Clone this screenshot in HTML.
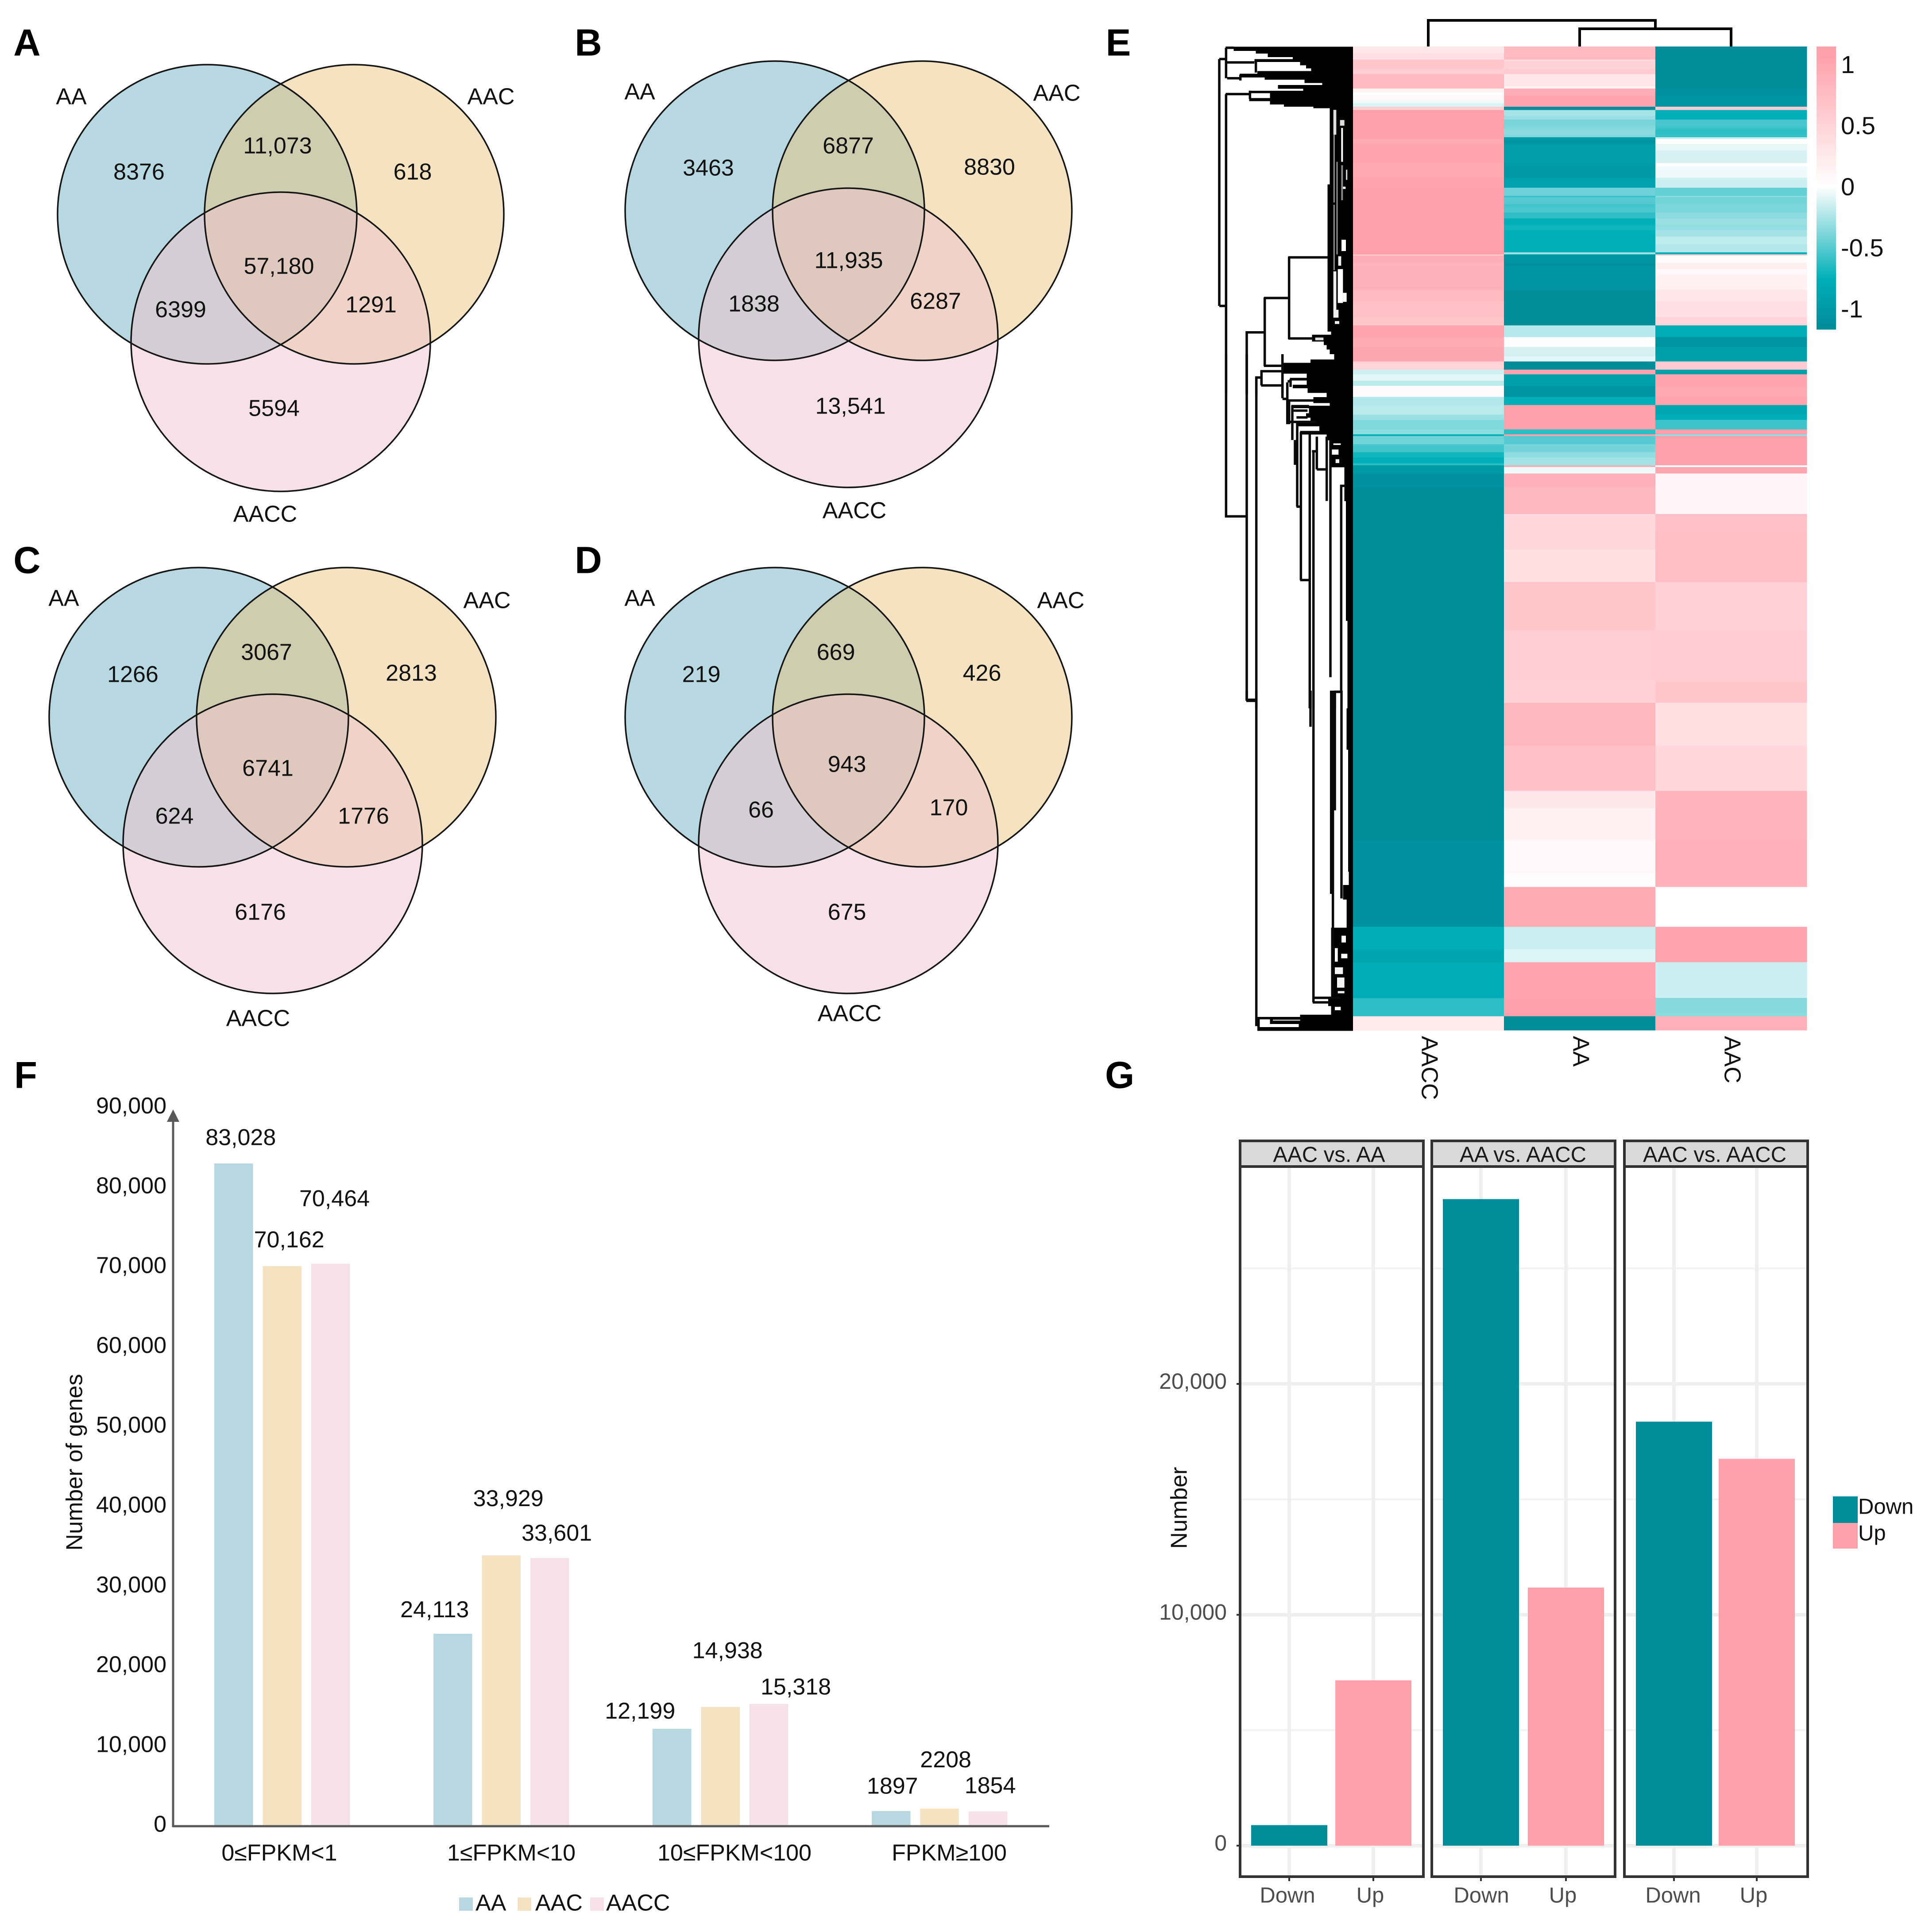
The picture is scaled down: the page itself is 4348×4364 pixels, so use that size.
<!DOCTYPE html>
<html lang="en">
<head>
<meta charset="utf-8">
<title>Venn diagrams, heatmap and gene count charts</title>
<style>
html,body{margin:0;padding:0;background:#fff;}
svg{display:block;font-family:"Liberation Sans",Arial,sans-serif;}
</style>
</head>
<body>
<svg id="fig" xmlns="http://www.w3.org/2000/svg" width="4348" height="4364" viewBox="0 0 4348 4364">
<rect x="0" y="0" width="4348" height="4364" fill="#fff"/>
<defs id="defs"></defs>
</svg>
<script>
// ---------- Venn data ----------
const vennSets = ['AA', 'AAC', 'AACC'];
const vennCountsA = ['8376', '11,073', '618', '57,180', '6399', '1291', '5594'];
const vennCountsB = ['3463', '6877', '8830', '11,935', '1838', '6287', '13,541'];
const vennCountsC = ['1266', '3067', '2813', '6741', '624', '1776', '6176'];
const vennCountsD = ['219', '669', '426', '943', '66', '170', '675'];

// ---------- Heatmap data: run-lengths of clustered rows and scaled expression per column ----------
const hmColumns = ['AACC', 'AA', 'AAC'];
const hmRowsAACC = [45,43,12,55,33,97,25,20,35,20,23,22,197,33,130,100,67,451,10,47,20,165,78,107,55,80,65,100,55,32,43,35,75,55,65,35,65,33,12,55,55,35,40,13,55,92,300,2094,587,154,87,241,124,95];
const hmValsAACC = [.26,.36,.65,.65,.57,.8,.15,0,.08,-.05,-.115,.55,1.08,.98,1.02,.98,1.02,1.08,.65,.92,.84,.89,.8,.72,.65,1.05,.95,1.0,.5,-.15,-.08,-.2,.05,-.23,-.2,-.29,-.37,-.34,-.75,-.42,-.55,-.7,-.76,-.62,-1.0,-1.08,-1.13,-1.15,-1.08,-.8,-.88,-.78,-.62,.24];
const hmRowsAA = [88,12,55,33,82,15,45,78,22,40,25,45,20,35,20,12,33,130,100,67,55,10,46,22,35,40,45,33,152,13,57,20,165,240,80,65,65,35,55,32,78,75,55,165,33,12,55,55,35,53,12,43,92,183,117,124,219,328,348,144,291,306,117,216,231,87,269,154,87,241,124,95];
const hmValsAA = [.8,.42,.51,.6,.28,.17,.93,1.01,-1.15,-.26,-.3,-.4,-.37,-.34,-.37,-1.0,-1.05,-.95,-1.0,-.9,-.43,-.6,-.5,-.56,-.53,-.61,-.75,-.7,-.76,-.28,-1.05,-1.12,-1.05,-1.13,-.22,.02,-.12,-.08,-1.15,1.05,-.92,-1.05,-.76,1.08,-.62,1.08,-.5,-.41,-.33,-.27,.9,-.05,.9,.82,.45,.45,.34,.65,.56,.52,.82,.72,.26,.17,.08,.01,.95,-.16,-.1,1.05,1.08,-1.15];
const hmRowsAAC = [285,45,78,22,65,45,20,35,20,12,33,45,85,25,75,67,55,10,46,57,40,45,33,44,53,55,13,10,47,20,22,43,100,78,107,55,80,65,100,55,32,88,65,55,65,35,65,33,12,198,12,43,92,183,117,343,328,348,144,291,306,117,216,231,87,269,154,87,241,124,95];
const hmValsAAC = [-1.15,-1.08,-1.05,.6,-.76,-.54,-.57,-.62,-.6,-.16,0,-.075,-.12,0,-.05,-.15,-.46,-.35,-.42,-.39,-.34,-.3,-.32,-.27,-.19,-.23,-.76,.5,.05,.18,.2,.08,.17,.28,.36,.48,-.8,-1.05,-.92,.6,-.92,1.02,.98,1.05,-.85,-.8,-.57,1.08,-.32,1.08,0,1.0,.12,.12,.72,.75,.54,.58,.65,.34,.45,.84,.85,.9,.9,0,1.05,1.05,-.15,-.35,.9];
const hmLegendTicks = [1, 0.5, 0, -0.5, -1];
const hmLegendLabels = ['1', '0.5', '0', '-0.5', '-1'];

// ---------- Bar chart F data ----------
const fCategories = ['0≤FPKM<1', '1≤FPKM<10', '10≤FPKM<100', 'FPKM≥100'];
const fSeries = ['AA', 'AAC', 'AACC'];
const fAA = [83028, 24113, 12199, 1897];
const fAAC = [70162, 33929, 14938, 2208];
const fAACC = [70464, 33601, 15318, 1854];
const fYTicks = [0, 10000, 20000, 30000, 40000, 50000, 60000, 70000, 80000, 90000];
const fYTickLabels = ['0', '10,000', '20,000', '30,000', '40,000', '50,000', '60,000', '70,000', '80,000', '90,000'];

// ---------- Bar chart G data ----------
const gPanels = ['AAC vs. AA', 'AA vs. AACC', 'AAC vs. AACC'];
const gCategories = ['Down', 'Up'];
const gDown = [890, 28005, 18365];
const gUp = [7163, 11178, 16755];
const gYTicks = [0, 10000, 20000];
const gYTickLabels = ['0', '10,000', '20,000'];
const gMinorTicks = [5000, 15000, 25000];

// ---------- helpers ----------
const NS = 'http://www.w3.org/2000/svg';
const root = document.getElementById('fig');
const defs = document.getElementById('defs');

function add(parent, tag, attrs, name) {
  const el = document.createElementNS(NS, tag);
  for (const k in attrs) el.setAttribute(k, attrs[k]);
  
  
  parent.appendChild(el);
  return el;
}
function group(name) {
  return add(root, 'g', {}, name);
}
function label(parent, str, x, y, size, anchor, name, extra) {
  const attrs = {x: x, y: y + size * 0.36, 'font-size': size, 'text-anchor': anchor || 'middle', fill: '#111'};
  if (extra) for (const k in extra) attrs[k] = extra[k];
  const el = add(parent, 'text', attrs, name);
  el.textContent = str;
  return el;
}
function rotLabel(parent, str, x, y, size, deg, anchor, name, fill) {
  const el = add(parent, 'text', {x: x, y: y, dy: size * 0.36, 'font-size': size, 'text-anchor': anchor, fill: fill || '#111', transform: 'rotate(' + deg + ' ' + x + ' ' + y + ')'}, name);
  el.textContent = str;
  return el;
}

// ---------- panel letters ----------
const lettersG = group('panel-letters');
[['A',61,95],['B',1329,95],['C',61,1264],['D',1329,1264],['E',2526,95],['F',58,2427],['G',2529,2427]].forEach(function (p) {
  label(lettersG, p[0], p[1], p[2], 85, 'middle', 'panel-letter-' + p[0].toLowerCase(), {'font-weight': 'bold', fill: '#000'});
});

// ---------- Venn ----------
function venn(id, cx1, cy1, cx2, cx3, cy3, counts, countPos, setPos) {
  const g = group('venn-' + id);
  const r = 338;
  const c = [[cx1, cy1], [cx2, cy1], [cx3, cy3]];
  ['a', 'b'].forEach(function (k, i) {
    const cp = add(defs, 'clipPath', {id: 'clip-' + id + k}, 'venn-clip');
    add(cp, 'circle', {cx: c[i][0], cy: c[i][1], r: r}, 'venn-clip-circle');
  });
  const fills = ['#b7d8e0', '#f4e2c0', '#f6e2e6'];
  c.forEach(function (p, i) {
    add(g, 'circle', {cx: p[0], cy: p[1], r: r, fill: fills[i]}, 'venn-circle-' + vennSets[i].toLowerCase());
  });
  add(g, 'circle', {cx: c[1][0], cy: c[1][1], r: r, fill: '#cfcdb0', 'clip-path': 'url(#clip-' + id + 'a)'}, 'venn-overlap-aa-aac');
  add(g, 'circle', {cx: c[2][0], cy: c[2][1], r: r, fill: '#d3cdd4', 'clip-path': 'url(#clip-' + id + 'a)'}, 'venn-overlap-aa-aacc');
  add(g, 'circle', {cx: c[2][0], cy: c[2][1], r: r, fill: '#f0d3c7', 'clip-path': 'url(#clip-' + id + 'b)'}, 'venn-overlap-aac-aacc');
  const inner = add(g, 'g', {'clip-path': 'url(#clip-' + id + 'a)'}, 'venn-center-clip');
  add(inner, 'circle', {cx: c[2][0], cy: c[2][1], r: r, fill: '#dfc9be', 'clip-path': 'url(#clip-' + id + 'b)'}, 'venn-overlap-center');
  c.forEach(function (p, i) {
    add(g, 'circle', {cx: p[0], cy: p[1], r: r, fill: 'none', stroke: '#151515', 'stroke-width': 3.5}, 'venn-outline-' + vennSets[i].toLowerCase());
  });
  counts.forEach(function (s, i) {
    label(g, s, countPos[i][0], countPos[i][1], 52, 'middle', 'venn-count');
  });
  vennSets.forEach(function (s, i) {
    label(g, s, setPos[i][0], setPos[i][1], 52, 'middle', 'venn-set-label-' + s.toLowerCase());
  });
}
venn('a', 468, 484, 800, 634, 772, vennCountsA,
  [[314,387],[627,328],[932,387],[630,600],[408,698],[838,687],[619,921]],
  [[161,217],[1109,217],[599,1160]]);
venn('b', 1750, 476, 2083, 1916, 763, vennCountsB,
  [[1600,378],[1916,328],[2235,376],[1917,587],[1703,685],[2113,679],[1921,916]],
  [[1445,206],[2387,209],[1930,1152]]);
venn('c', 449, 1620, 782, 616, 1906, vennCountsC,
  [[300,1522],[602,1472],[929,1519],[605,1734],[394,1842],[821,1842],[588,2059]],
  [[144,1350],[1100,1355],[583,2299]]);
venn('d', 1750, 1620, 2083, 1916, 1906, vennCountsD,
  [[1584,1522],[1888,1472],[2218,1519],[1913,1725],[1719,1828],[2143,1823],[1913,2059]],
  [[1445,1350],[2396,1355],[1919,2288]]);

// ---------- Heatmap ----------
function lerp(a, b, t) { return a.map(function (v, i) { return Math.round(v + (b[i] - v) * t); }); }
function colorScale(v) {
  const white = [255, 255, 255], pink = [255, 160, 170], bright = [0, 176, 185], dark = [0, 140, 153];
  let c;
  if (v >= 0) c = lerp(white, pink, Math.min(v / 1.08, 1));
  else if (v >= -0.75) c = lerp(white, bright, -v / 0.75);
  else c = lerp(bright, dark, Math.min((-v - 0.75) / 0.4, 1));
  return 'rgb(' + c.join(',') + ')';
}
const hmX0 = 3055, hmY0 = 105, hmColW = 342, hmHeight = 2222, hmUnitsTotal = 6666;
function hmY(rowIndex) { return hmY0 + rowIndex / hmUnitsTotal * hmHeight; }
function hmX(col) { return hmX0 + col * hmColW; }
const hmG = group('heatmap');
const hmRowRuns = [hmRowsAACC, hmRowsAA, hmRowsAAC];
const hmValRuns = [hmValsAACC, hmValsAA, hmValsAAC];
hmColumns.forEach(function (name, j) {
  let cursor = 0;
  hmRowRuns[j].forEach(function (n, i) {
    add(hmG, 'rect', {x: hmX(j), y: hmY(cursor), width: hmColW + 0.5, height: hmY(cursor + n) - hmY(cursor) + 0.5, fill: colorScale(hmValRuns[j][i]), 'shape-rendering': 'crispEdges'}, 'heatmap-cell-' + name.toLowerCase());
    cursor += n;
  });
});
hmColumns.forEach(function (name, j) {
  rotLabel(hmG, name, hmX(j) + hmColW / 2 + 4, 2340, 52, 90, 'start', 'heatmap-column-label-' + name.toLowerCase());
});

// colour bar
const lgX = 4103, lgW = 44, lgTop = 105, lgBottom = 742;
function lgY(v) { return 421 - v * 276; }
const lgG = group('heatmap-colorbar');
for (let py = lgTop; py < lgBottom; py += 3) {
  const v = (421 - py) / 276;
  add(lgG, 'rect', {x: lgX, y: py, width: lgW, height: 3.5, fill: colorScale(v), 'shape-rendering': 'crispEdges'}, 'colorbar-step');
}
hmLegendTicks.forEach(function (v, i) {
  label(lgG, hmLegendLabels[i], 4158, lgY(v), 56, 'start', 'colorbar-tick-label');
});

// column dendrogram (merge heights above the heatmap, column order index)
const colMergeInner = 40, colMergeOuter = 59;
const colDendro = group('column-dendrogram');
(function () {
  const cx = function (j) { return hmX(j) + hmColW / 2; };
  const innerMid = (cx(1) + cx(2)) / 2;
  const yI = hmY0 - colMergeInner, yO = hmY0 - colMergeOuter;
  add(colDendro, 'path', {d: 'M' + cx(1) + ' ' + hmY0 + 'V' + yI + 'H' + cx(2) + 'V' + hmY0, fill: 'none', stroke: '#000', 'stroke-width': 6}, 'column-dendrogram-inner-merge');
  add(colDendro, 'path', {d: 'M' + cx(0) + ' ' + hmY0 + 'V' + yO + 'H' + innerMid + 'V' + yI, fill: 'none', stroke: '#000', 'stroke-width': 6}, 'column-dendrogram-root-merge');
})();

// row dendrogram: geometry measured in 3 vertical strips
const rowDendro = group('row-dendrogram');
function dx(z) { return 2740 + z / 3; }
function dy(f, z) { return f + z * 0.5102; }
const F6 = 90, F7 = 800, F8 = 1560;
const leafMass = [
 [F6,30,48,140],[F6,48,60,290],[F6,60,75,370],[F6,75,85,540],[F6,85,97,280],[F6,97,112,590],[F6,112,125,630],[F6,125,138,665],[F6,138,150,300],[F6,150,165,180],[F6,165,175,350],[F6,175,190,620],[F6,190,200,740],[F6,200,215,440],[F6,215,225,610],[F6,225,235,245],[F6,235,258,385],[F6,258,270,245],[F6,270,285,385],[F6,285,295,480],[F6,295,302,680],[F6,302,640,790],[F6,640,1290,775],[F6,1290,1305,800],[F6,1305,1335,670],[F6,1335,1350,750],[F6,1350,1370,770],[F6,1370,1390,790],[F6,1390,1415,820],[F6,1415,1430,660],[F6,1430,1452,470],
 [F7,60,72,470],[F7,72,85,470],[F7,85,105,635],[F7,105,115,520],[F7,115,135,635],[F7,135,150,540],[F7,150,170,640],[F7,170,190,770],[F7,190,215,680],[F7,215,228,790],[F7,228,238,530],[F7,238,262,650],[F7,262,280,630],[F7,280,298,660],[F7,298,318,570],[F7,318,340,720],[F7,340,355,590],[F7,355,380,770],[F7,380,500,790],[F7,500,650,890],[F7,650,1180,900],[F7,1180,1568,910],
 [F8,78,260,905],[F8,260,800,915],[F8,800,860,920],[F8,860,950,880],[F8,950,1050,905],[F8,1050,1360,800],[F8,1360,1395,780],[F8,1395,1435,800],[F8,1435,1445,590],[F8,1445,1475,385],[F8,1475,1490,580],[F8,1490,1505,300]
];
leafMass.forEach(function (m) {
  const y1 = dy(m[0], m[1]), y2 = dy(m[0], m[2]);
  add(rowDendro, 'rect', {x: dx(m[3]), y: y1, width: hmX0 - dx(m[3]) + 1, height: y2 - y1 + 0.6, fill: '#000', 'shape-rendering': 'crispEdges'}, 'row-dendrogram-leaf-block');
});
const leafGaps = [
 [F6,860,355,890,380,'#ddd'],[F6,868,390,880,540,'#fff'],[F6,815,310,835,420,'#ddd'],[F6,815,420,825,720,'#888'],[F6,835,540,845,950,'#888'],[F6,868,555,880,710,'#888'],[F6,900,575,910,620,'#ccc'],[F6,880,650,898,660,'#fff'],[F6,870,885,900,935,'#fff'],[F6,815,730,825,1020,'#888'],[F6,848,958,868,1000,'#eee'],[F6,815,1025,835,1200,'#eee'],[F6,845,1015,880,1165,'#fff'],[F6,880,1120,905,1160,'#fff'],[F6,815,1195,850,1230,'#eee'],[F6,825,1245,855,1258,'#eee'],[F6,692,1318,748,1330,'#ddd'],
 [F7,815,395,865,402,'#fff'],[F7,805,422,850,445,'#fff'],[F7,830,465,855,482,'#eee'],
 [F8,835,925,905,1045,'#fff'],[F8,870,1085,900,1115,'#fff'],[F8,868,1165,910,1185,'#fff'],[F8,825,1140,845,1200,'#fff'],[F8,825,1225,880,1255,'#f4f4f4'],[F8,840,1270,890,1315,'#f4f4f4'],[F8,845,1330,890,1340,'#eee'],[F8,825,1400,865,1415,'#fff'],[F8,405,1456,590,1462,'#aaa']
];
leafGaps.forEach(function (h) {
  const y1 = dy(h[0], h[2]), y2 = dy(h[0], h[4]);
  add(rowDendro, 'rect', {x: dx(h[1]), y: y1, width: dx(h[3]) - dx(h[1]), height: y2 - y1, fill: h[5]}, 'row-dendrogram-gap');
});
const branchV = [
 [F6,42,85,1178],[F6,88,35,170],[F6,88,240,1568],[F6,185,155,180],[F6,290,90,145],[F6,250,225,262],[F6,515,960,1325],[F6,350,1140,1445],[F6,228,1295,1568],[F6,293,1495,1568],[F6,328,1465,1530],[F6,470,1460,1568],
 [F7,88,0,718],[F7,228,0,1530],[F7,293,100,1568],[F7,470,0,195],[F7,503,125,310],[F7,515,200,310],[F7,537,230,380],[F7,525,110,145],[F7,555,380,490],[F7,570,300,675],[F7,595,345,1000],[F7,655,355,1568],[F7,680,430,1568],[F7,703,365,510],[F7,770,365,650],[F7,795,380,1430],[F7,868,585,1490],[F7,825,1495,1568],
 [F8,228,0,45],[F8,293,0,1480],[F8,308,1450,1500],[F8,660,0,160],[F8,680,0,1380],[F8,800,0,900],[F8,812,0,1350],[F8,825,0,530],[F8,870,0,920]
];
const branchH = [
 [F6,85,42,88],[F6,1178,42,88],[F6,35,85,140],[F6,100,95,280],[F6,170,95,180],[F6,240,85,245],[F6,963,510,780],[F6,1322,510,680],[F6,1143,345,515],[F6,1443,345,480],[F6,1295,220,350],[F6,1495,285,325],[F6,1467,320,470],[F6,1530,325,470],
 [F7,718,80,228],[F7,1530,225,293],[F7,198,470,500],[F7,120,505,530],[F7,205,503,680],[F7,230,530,650],[F7,250,545,640],[F7,280,565,640],[F7,300,520,700],[F7,345,590,720],[F7,675,565,595],[F7,1000,590,655],[F7,430,670,705],[F7,510,703,770],[F7,583,860,900],[F7,1495,820,870],
 [F8,45,225,293],[F8,1480,285,310],[F8,1450,300,390],[F8,1380,675,790],[F8,1360,685,860],[F8,5,820,870]
];
branchV.forEach(function (b) {
  add(rowDendro, 'line', {x1: dx(b[1]), x2: dx(b[1]), y1: dy(b[0], b[2]), y2: dy(b[0], b[3]), stroke: '#0a0a0a', 'stroke-width': 5.5}, 'row-dendrogram-branch');
});
branchH.forEach(function (b) {
  add(rowDendro, 'line', {x1: dx(b[2]), x2: dx(b[3]), y1: dy(b[0], b[1]), y2: dy(b[0], b[1]), stroke: '#0a0a0a', 'stroke-width': 5.5}, 'row-dendrogram-branch');
});

// ---------- Bar chart F ----------
const fG = group('gene-count-chart');
const fBaseY = 4125, fPerUnit = 0.01803, fAxisX = 391;
function fY(v) { return fBaseY - v * fPerUnit; }
function fX(cat, ser) { return 484 + cat * 495 + ser * 109.4; }
const fBarW = 87.5;
const fColors = ['#b7d8e0', '#f4e2c0', '#f6e2e6'];
const fValues = [fAA, fAAC, fAACC];
function fNudge() {
  return [
    [[16, 60], [16, 61], [9, 149]],
    [[-41, 56], [16, 130], [16, 58]],
    [[-72, 42], [16, 129], [61, 40]],
    [[3, 58], [14, 112], [5, 60]]
  ];
}
const nudges = fNudge();
function fmt(v) { return v >= 10000 ? v.toLocaleString('en-US') : String(v); }
fCategories.forEach(function (cat, c) {
  fSeries.forEach(function (s, k) {
    const v = fValues[k][c];
    add(fG, 'rect', {x: fX(c, k), y: fY(v), width: fBarW, height: fBaseY - fY(v), fill: fColors[k]}, 'bar-' + s.toLowerCase() + '-group-' + (c + 1));
    label(fG, fmt(v), fX(c, k) + fBarW / 2 + nudges[c][k][0], fY(v) - nudges[c][k][1], 52, 'middle', 'bar-value-label');
  });
});
add(fG, 'line', {x1: fAxisX, x2: fAxisX, y1: 2525, y2: fBaseY + 2, stroke: '#595959', 'stroke-width': 5}, 'y-axis-line');
add(fG, 'line', {x1: fAxisX - 2, x2: 2370, y1: fBaseY, y2: fBaseY, stroke: '#595959', 'stroke-width': 5}, 'x-axis-line');
add(fG, 'path', {d: 'M' + fAxisX + ' 2506L' + (fAxisX + 14) + ' 2534H' + (fAxisX - 14) + 'Z', fill: '#595959'}, 'y-axis-arrow');
fYTicks.forEach(function (v, i) {
  label(fG, fYTickLabels[i], 376, fY(v) - 6, 52, 'end', 'y-tick-label');
});
const fCatCenters = [631, 1155, 1659, 2144];
fCategories.forEach(function (c, i) {
  label(fG, c, fCatCenters[i], 4184, 52, 'middle', 'x-category-label');
});
rotLabel(fG, 'Number of genes', 167, 3303, 52, -90, 'middle', 'y-axis-title');
const fLegendG = add(fG, 'g', {}, 'legend');
[[1037, 1074], [1169, 1209], [1333, 1369]].forEach(function (p, i) {
  add(fLegendG, 'rect', {x: p[0], y: 4286, width: 31, height: 30, fill: fColors[i]}, 'legend-swatch-' + fSeries[i].toLowerCase());
  label(fLegendG, fSeries[i], p[1], 4297, 52, 'start', 'legend-label-' + fSeries[i].toLowerCase());
});

// ---------- Bar chart G ----------
const gG = group('differential-expression-chart');
const gPanelX = [2801, 3234, 3669], gPanelW = 414;
const gStripTop = 2577, gStripBottom = 2635, gPanelBottom = 4239;
const gBaseY = 4169, gPer = 0.05215;
function gY(v) { return gBaseY - v * gPer; }
const gBandOffset = [111, 111, 112], gBandStep = [190, 192, 187];
function gX(p, c) { return gPanelX[p] + gBandOffset[p] + c * gBandStep[p]; }
const gBarW = 172;
const gDownColor = '#008c99', gUpColor = '#ffa0aa';
const gStripNudge = [-6, -1, -3], gDownNudge = [-4, 1, -2];
gPanels.forEach(function (name, p) {
  const px = gPanelX[p];
  gMinorTicks.forEach(function (v) {
    add(gG, 'line', {x1: px, x2: px + gPanelW, y1: gY(v), y2: gY(v), stroke: '#f2f2f2', 'stroke-width': 4}, 'minor-gridline');
  });
  gYTicks.forEach(function (v) {
    add(gG, 'line', {x1: px, x2: px + gPanelW, y1: gY(v), y2: gY(v), stroke: '#efefef', 'stroke-width': 8}, 'major-gridline');
  });
  gCategories.forEach(function (c, i) {
    add(gG, 'line', {x1: gX(p, i), x2: gX(p, i), y1: gStripBottom, y2: gPanelBottom, stroke: '#efefef', 'stroke-width': 8}, 'vertical-gridline');
    add(gG, 'line', {x1: gX(p, i), x2: gX(p, i), y1: gPanelBottom, y2: gPanelBottom + 10, stroke: '#333', 'stroke-width': 4}, 'x-tick');
    label(gG, c, gX(p, i) + (i === 0 ? gDownNudge[p] : -7), 4280, 49, 'middle', 'x-tick-label', {fill: '#4d4d4d'});
  });
  const dv = gDown[p], uv = gUp[p];
  add(gG, 'rect', {x: gX(p, 0) - gBarW / 2, y: gY(dv), width: gBarW, height: gBaseY - gY(dv), fill: gDownColor}, 'bar-down-panel-' + (p + 1));
  add(gG, 'rect', {x: gX(p, 1) - gBarW / 2, y: gY(uv), width: gBarW, height: gBaseY - gY(uv), fill: gUpColor}, 'bar-up-panel-' + (p + 1));
  add(gG, 'rect', {x: px, y: gStripBottom, width: gPanelW, height: gPanelBottom - gStripBottom, fill: 'none', stroke: '#333', 'stroke-width': 6}, 'panel-border');
  add(gG, 'rect', {x: px, y: gStripTop, width: gPanelW, height: gStripBottom - gStripTop, fill: '#d9d9d9', stroke: '#333', 'stroke-width': 6}, 'facet-strip');
  label(gG, name, px + gPanelW / 2 + gStripNudge[p], 2607, 49, 'middle', 'facet-strip-label', {fill: '#1a1a1a'});
});
gYTicks.forEach(function (v, i) {
  label(gG, gYTickLabels[i], 2771, gY(v) - 7, 50, 'end', 'y-tick-label', {fill: '#4d4d4d'});
  add(gG, 'line', {x1: 2793, x2: 2801, y1: gY(v), y2: gY(v), stroke: '#333', 'stroke-width': 4}, 'y-tick');
});
rotLabel(gG, 'Number', 2662, 3406, 52, -90, 'middle', 'y-axis-title');
const gLegend = add(gG, 'g', {}, 'legend');
add(gLegend, 'rect', {x: 4140, y: 3380, width: 56, height: 60, fill: gDownColor}, 'legend-swatch-down');
add(gLegend, 'rect', {x: 4140, y: 3440, width: 56, height: 58, fill: gUpColor}, 'legend-swatch-up');
label(gLegend, gCategories[0], 4197, 3402, 49, 'start', 'legend-label-down');
label(gLegend, gCategories[1], 4197, 3462, 49, 'start', 'legend-label-up');
</script>
</body>
</html>
